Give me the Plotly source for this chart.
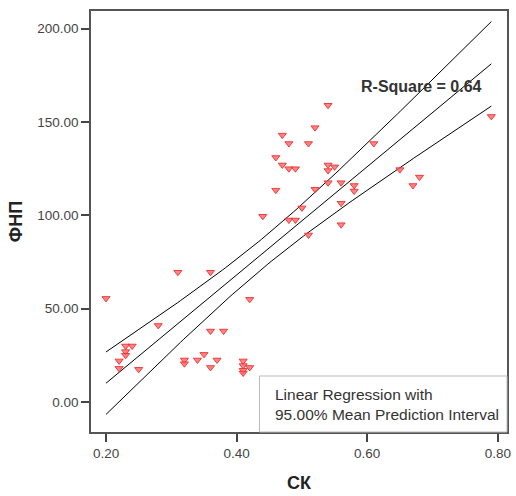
import numpy as np
import plotly.graph_objects as go

# Data (СК vs ФНП)
ck = [0.20, 0.22, 0.22, 0.23, 0.23, 0.23, 0.24, 0.25, 0.28, 0.31,
      0.32, 0.32, 0.34, 0.35, 0.36, 0.36, 0.36, 0.37, 0.38, 0.41,
      0.41, 0.41, 0.41, 0.42, 0.42,
      0.44, 0.46, 0.46, 0.47, 0.47, 0.48, 0.48, 0.48, 0.49, 0.49,
      0.50, 0.51, 0.51, 0.52, 0.52, 0.54, 0.54, 0.54, 0.54, 0.55,
      0.56, 0.56, 0.56, 0.58, 0.58, 0.61, 0.65, 0.67, 0.68, 0.79]
fnp = [55.5, 22.0, 18.0, 30.0, 27.0, 25.0, 30.0, 17.5, 41.0, 69.5,
       22.5, 20.5, 22.5, 25.5, 69.5, 38.0, 18.5, 22.5, 38.0, 22.0,
       19.5, 17.0, 15.5, 18.5, 55.0,
       99.5, 131.0, 113.5, 143.0, 127.0, 138.5, 125.0, 97.5, 125.0, 97.5,
       104.0, 138.5, 89.5, 147.0, 114.0, 159.0, 127.0, 124.0, 117.5, 126.0,
       117.5, 106.5, 95.0, 116.0, 113.0, 138.5, 124.5, 116.0, 120.5, 153.0]

x_ticks = [0.20, 0.40, 0.60, 0.80]
x_tick_labels = ["0.20", "0.40", "0.60", "0.80"]
y_ticks = [0, 50, 100, 150, 200]
y_tick_labels = ["0.00", "50.00", "100.00", "150.00", "200.00"]

r2_text = "R-Square = 0.64"
legend_lines = ["Linear Regression with", "95.00% Mean Prediction Interval"]

# Linear regression with 95% confidence band for the mean
x = np.array(ck)
y = np.array(fnp)
n = len(x)
b1, b0 = np.polyfit(x, y, 1)
resid = y - (b0 + b1 * x)
s = np.sqrt(np.sum(resid ** 2) / (n - 2))
sxx = np.sum((x - x.mean()) ** 2)
t_crit = 2.004
xs = np.linspace(x.min(), x.max(), 120)
yhat = b0 + b1 * xs
half = t_crit * s * np.sqrt(1.0 / n + (xs - x.mean()) ** 2 / sxx)

FONT = "Liberation Sans, Arial"

fig = go.Figure()
for yy in (yhat + half, yhat, yhat - half):
    fig.add_trace(go.Scatter(x=xs, y=yy, mode="lines",
                             line=dict(color="black", width=1),
                             hoverinfo="skip", showlegend=False))
fig.add_trace(go.Scatter(x=ck, y=fnp, mode="markers",
                         marker=dict(symbol="triangle-down", size=7,
                                     color="rgba(255,100,100,0.8)",
                                     line=dict(color="rgba(235,50,50,0.9)", width=1)),
                         showlegend=False))

axis_common = dict(showgrid=False, zeroline=False, showline=True, mirror=True,
                   linecolor="#555555", linewidth=1.5, ticks="outside",
                   ticklen=8, tickwidth=2, tickcolor="#444444",
                   tickfont=dict(family=FONT, size=13.5, color="#444444"))

fig.update_xaxes(range=[0.177, 0.814], tickvals=x_ticks, ticktext=x_tick_labels,
                 title=dict(text="<b>СК</b>", font=dict(family=FONT, size=18, color="#222222"),
                            standoff=16),
                 **axis_common)
fig.update_yaxes(range=[-16.1, 209.5], tickvals=y_ticks, ticktext=y_tick_labels,
                 title=dict(text="<b>ФНП</b>", font=dict(family=FONT, size=18, color="#222222"),
                            standoff=10),
                 **axis_common)

fig.add_annotation(x=0.588, y=169, xref="x", yref="y", xanchor="left", yanchor="middle",
                   showarrow=False, text="<b>" + r2_text + "</b>",
                   font=dict(family=FONT, size=16, color="#333333"))

# Legend box in the bottom-right corner
fig.add_shape(type="rect", xref="paper", yref="paper", x0=0.405, x1=1.0, y0=0.0, y1=0.133,
              line=dict(color="#bbbbbb", width=1), fillcolor="white")
fig.add_annotation(x=0.437, y=0.066, xref="paper", yref="paper", xanchor="left", yanchor="middle",
                   showarrow=False, align="left", text="<br>".join(legend_lines),
                   font=dict(family=FONT, size=15.5, color="#333333"))

fig.update_layout(width=516, height=496, margin=dict(l=91, r=5, t=11, b=64),
                  plot_bgcolor="white", paper_bgcolor="white")

fig.write_html("out.html")
